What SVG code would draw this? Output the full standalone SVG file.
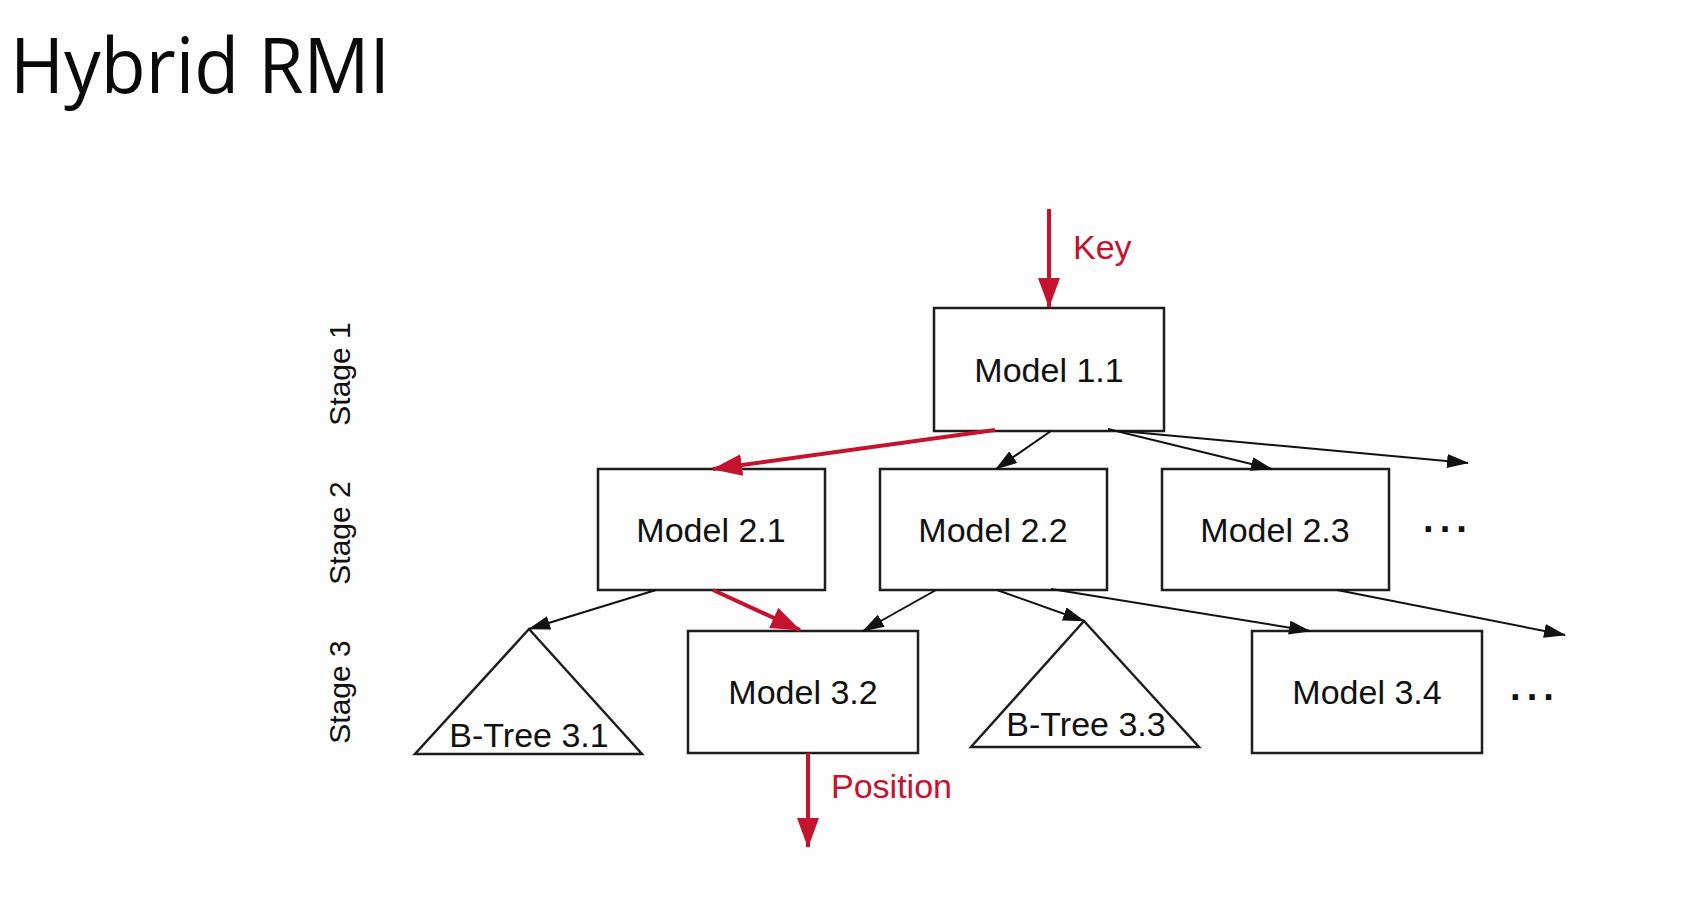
<svg xmlns="http://www.w3.org/2000/svg" width="1707" height="923" viewBox="0 0 1707 923">
<defs>
<style>
.bg{fill:#fcfdfc}
.box{fill:#fdfefd;stroke:#1e1e1e;stroke-width:2.5}
.lbl{font-family:"Liberation Sans",Arial,sans-serif;font-size:34px;fill:#111;text-anchor:middle}
.stage{font-family:"Liberation Sans",Arial,sans-serif;font-size:30px;fill:#111;text-anchor:middle}
.red{font-family:"Liberation Sans",Arial,sans-serif;font-size:34px;fill:#c4122f}
.blk{fill:none;stroke:#111;stroke-width:2}
.rd{fill:none;stroke:#c4122f;stroke-width:4}
.dots{font-family:"Liberation Sans",Arial,sans-serif;font-size:38px;font-weight:bold;fill:#111;text-anchor:middle;letter-spacing:4px}
</style>
<marker id="ab" markerUnits="userSpaceOnUse" markerWidth="22" markerHeight="14" refX="21" refY="7" orient="auto">
<path d="M0,0 L22,7 L0,14 z" fill="#111"/>
</marker>
<marker id="ar" markerUnits="userSpaceOnUse" markerWidth="30" markerHeight="22" refX="29" refY="11" orient="auto">
<path d="M0,0 L30,11 L0,22 z" fill="#c4122f"/>
</marker>
</defs>
<rect class="bg" x="0" y="0" width="1707" height="923"/>
<text x="10" y="93" font-family="'Open Sans','Noto Sans',sans-serif" font-size="76" fill="#0a0a0a" textLength="380" lengthAdjust="spacingAndGlyphs">Hybrid RMI</text>

<g id="stage-labels">
<text class="stage" transform="translate(350,374) rotate(-90)">Stage 1</text>
<text class="stage" transform="translate(350,533) rotate(-90)">Stage 2</text>
<text class="stage" transform="translate(350,692) rotate(-90)">Stage 3</text>
</g>

<g id="model-1-1"><rect class="box" x="934" y="308" width="230" height="123"/><text class="lbl" x="1049" y="382">Model 1.1</text></g>
<g id="model-2-1"><rect class="box" x="598" y="469" width="227" height="121"/><text class="lbl" x="711" y="542">Model 2.1</text></g>
<g id="model-2-2"><rect class="box" x="880" y="469" width="227" height="121"/><text class="lbl" x="993" y="542">Model 2.2</text></g>
<g id="model-2-3"><rect class="box" x="1162" y="469" width="227" height="121"/><text class="lbl" x="1275" y="542">Model 2.3</text></g>
<g id="dots-2"><text class="dots" x="1448" y="542">···</text></g>
<g id="btree-3-1"><polygon class="box" points="529,629 642,754 415,754"/><text class="lbl" x="529" y="747">B-Tree 3.1</text></g>
<g id="model-3-2"><rect class="box" x="688" y="631" width="230" height="122"/><text class="lbl" x="803" y="704">Model 3.2</text></g>
<g id="btree-3-3"><polygon class="box" points="1084,621 1199,747 971,747"/><text class="lbl" x="1086" y="736">B-Tree 3.3</text></g>
<g id="model-3-4"><rect class="box" x="1252" y="631" width="230" height="122"/><text class="lbl" x="1367" y="704">Model 3.4</text></g>
<g id="dots-3"><text class="dots" x="1535" y="710">···</text></g>

<g id="connectors">
<line class="rd" x1="1049" y1="209" x2="1049" y2="307" marker-end="url(#ar)"/>
<text class="red" x="1073" y="259">Key</text>
<line class="rd" x1="995" y1="430" x2="713" y2="469" marker-end="url(#ar)"/>
<line class="blk" x1="1051" y1="431" x2="996" y2="469" marker-end="url(#ab)"/>
<line class="blk" x1="1108" y1="429" x2="1272" y2="469" marker-end="url(#ab)"/>
<line class="blk" x1="1121" y1="431" x2="1468" y2="463" marker-end="url(#ab)"/>
<line class="blk" x1="656" y1="590" x2="529" y2="629" marker-end="url(#ab)"/>
<line class="rd" x1="713" y1="590" x2="800" y2="630" marker-end="url(#ar)"/>
<line class="blk" x1="936" y1="590" x2="863" y2="631" marker-end="url(#ab)"/>
<line class="blk" x1="997" y1="590" x2="1084" y2="621" marker-end="url(#ab)"/>
<line class="blk" x1="1051" y1="589" x2="1310" y2="631" marker-end="url(#ab)"/>
<line class="blk" x1="1337" y1="590" x2="1565" y2="635" marker-end="url(#ab)"/>
<line class="rd" x1="808" y1="753" x2="808" y2="847" marker-end="url(#ar)"/>
<text class="red" x="831" y="798">Position</text>
</g>
</svg>
